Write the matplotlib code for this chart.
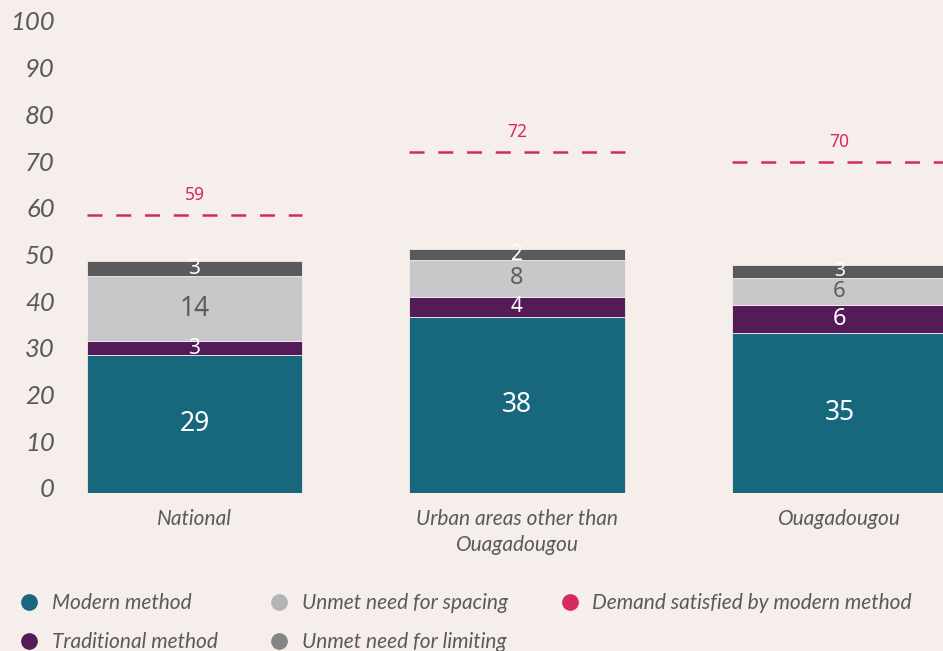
import matplotlib.pyplot as plt
import matplotlib.transforms as mtransforms
from matplotlib.lines import Line2D

categories = ["National", "Urban areas other than\nOuagadougou", "Ouagadougou"]

# bar segment heights (%)
modern = [29.5, 37.7, 34.3]
traditional = [2.9, 4.2, 6.0]
unmet_spacing = [14.0, 8.0, 5.7]
unmet_limiting = [3.3, 2.3, 2.8]
# printed labels on the segments
modern_lbl = ["29", "38", "35"]
traditional_lbl = ["3", "4", "6"]
spacing_lbl = ["14", "8", "6"]
limiting_lbl = ["3", "2", "3"]

demand = [59.4, 73.0, 70.8]
demand_lbl = ["59", "72", "70"]

yticks = [0, 10, 20, 30, 40, 50, 60, 70, 80, 90, 100]

bg = "#F5EEEB"
c_modern = "#17677D"
c_trad = "#541B59"
c_spacing = "#C8C8CA"
c_limit = "#5A5A5C"
c_demand = "#D42A5E"
txt = "#5A5A5A"

fig = plt.figure(figsize=(9.43, 6.51), dpi=100, facecolor=bg)
ax = fig.add_axes([70 / 943, 158.3 / 651, 1 - 70 / 943, (492.7 - 26) / 651])
ax.set_facecolor(bg)

x = [0, 1, 2]
w = 0.667
bottoms = [0, 0, 0]
segs = [
    (modern, modern_lbl, c_modern, "white", [19, 19, 19]),
    (traditional, traditional_lbl, c_trad, "white", [15, 15, 17]),
    (unmet_spacing, spacing_lbl, c_spacing, "#5E5E5E", [19, 17, 16]),
    (unmet_limiting, limiting_lbl, c_limit, "white", [15, 15, 14]),
]
for vals, lbls, col, tc, sizes in segs:
    bars = ax.bar(x, vals, w, bottom=bottoms, color=col, edgecolor=bg, linewidth=0.6)
    for i, b in enumerate(bars):
        ax.text(b.get_x() + b.get_width() / 2, bottoms[i] + vals[i] / 2, lbls[i],
                ha="center", va="center", color=tc, fontsize=sizes[i],
                family="Noto Sans", fontweight="light")
    bottoms = [bottoms[i] + vals[i] for i in range(3)]

# demand satisfied dashed lines
for i in range(3):
    ax.plot([x[i] - w / 2, x[i] + w / 2], [demand[i], demand[i]], color=c_demand,
            lw=1.8, dashes=(6, 5.5))
    ax.annotate(demand_lbl[i], (x[i], demand[i]), xytext=(0, 14.5), textcoords="offset points",
                ha="center", va="center", color=c_demand, fontsize=12.5, family="Noto Sans")

ax.set_xlim((70 - 194.5) / 322.5, (943 - 194.5) / 322.5)
ax.set_ylim(0, 100)
ax.set_yticks(yticks)
ax.set_yticklabels([str(v) for v in yticks], family="Lato", style="italic",
                   fontsize=18.5, color=txt)
ax.tick_params(axis="y", length=0, pad=11)
ax.set_xticks(x)
ax.set_xticklabels(categories, family="Lato", style="italic", fontsize=15,
                   color=txt, linespacing=1.35)
ax.tick_params(axis="x", length=0, pad=12)
for lab in ax.get_yticklabels():
    lab.set_transform(lab.get_transform() + mtransforms.ScaledTranslation(0, 5 / 100, fig.dpi_scale_trans))
for s in ax.spines.values():
    s.set_visible(False)

handles = [
    Line2D([], [], ls="", marker="o", ms=11, color=c_modern, label="Modern method"),
    Line2D([], [], ls="", marker="o", ms=11, color=c_trad, label="Traditional method"),
    Line2D([], [], ls="", marker="o", ms=11, color="#B4B4B6", label="Unmet need for spacing"),
    Line2D([], [], ls="", marker="o", ms=11, color="#858585", label="Unmet need for limiting"),
    Line2D([], [], ls="", marker="o", ms=11, color=c_demand, label="Demand satisfied by modern method"),
]
fig.legend(handles=handles, ncol=3, loc="upper left", bbox_to_anchor=(10 / 943, 1 - 585 / 651),
           frameon=False, prop={"family": "Lato", "style": "italic", "size": 15},
           labelcolor=txt, handletextpad=0.6, columnspacing=2.45, labelspacing=0.9,
           handlelength=1.0, borderaxespad=0)

fig.savefig("out.png", dpi=100, facecolor=bg)
